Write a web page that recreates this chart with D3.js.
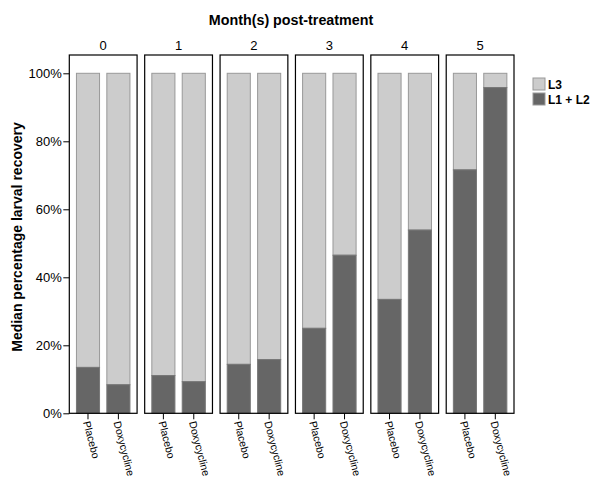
<!DOCTYPE html>
<html><head><meta charset="utf-8">
<script src="https://cdn.jsdelivr.net/npm/d3@7"></script>
<style>body{margin:0;background:#fff;}svg{display:block;font-family:"Liberation Sans",Arial,sans-serif;}</style>
</head><body>
<script>
const months = ["0","1","2","3","4","5"];
const treatments = ["Placebo","Doxycycline"];
// L1 + L2 median percentage (remaining up to 100% is L3)
const placeboL12 = [13.5, 11.1, 14.4, 25.0, 33.5, 71.6];
const doxyL12 = [8.4, 9.3, 15.8, 46.5, 53.9, 95.8];
const yTicks = [0, 20, 40, 60, 80, 100];
const legendLabels = ["L3", "L1 + L2"];
const colors = {L3: "#cccccc", L12: "#666666"};

(function () {
const W = 600, H = 484;
const svg = d3.select("body").append("svg").attr("width", W).attr("height", H);

const plotLeft = 69.3, plotRight = 514, panelGap = 7.6, plotTop = 55, plotBottom = 413.3;
const nP = months.length;
const panelW = (plotRight - plotLeft - panelGap * (nP - 1)) / nP;

const y = d3.scaleLinear().domain([0, 100]).range([plotBottom, 73.3]);
const xOuter = d3.scaleBand().domain(months).range([plotLeft, plotRight + panelGap]).paddingInner(0).paddingOuter(0);
const xInner = d3.scaleBand().domain(treatments).range([0, panelW]).paddingInner(0.24).paddingOuter(0.235);

const data = months.map((m, i) => ({month: m, vals: [placeboL12[i], doxyL12[i]]}));

svg.append("text").attr("x", 291).attr("y", 25).attr("text-anchor", "middle")
  .attr("font-size", 14.3).attr("font-weight", "bold").text("Month(s) post-treatment");

svg.append("text").attr("transform", "translate(22,237) rotate(-90)").attr("text-anchor", "middle")
  .attr("font-size", 14).attr("font-weight", "bold").text("Median percentage larval recovery");

const yAxis = d3.axisLeft(y).tickValues(yTicks).tickFormat(d => d + "%").tickSize(6).tickSizeOuter(0);
const ga = svg.append("g").attr("transform", `translate(${plotLeft},0)`).call(yAxis);
ga.select(".domain").remove();
ga.selectAll("line").attr("stroke", "#000");
ga.selectAll("text").attr("font-size", 13).attr("fill", "#000").attr("font-family", "Liberation Sans, Arial, sans-serif").attr("dx", "1.5");

data.forEach(d => {
  const px = xOuter(d.month);
  const g = svg.append("g").attr("transform", `translate(${px},0)`);
  g.append("text").attr("x", panelW / 2).attr("y", 50).attr("text-anchor", "middle")
    .attr("font-size", 13).text(d.month);
  treatments.forEach((t, j) => {
    const v = d.vals[j];
    const bx = xInner(t), bw = xInner.bandwidth();
    g.append("rect").attr("x", bx).attr("y", y(100)).attr("width", bw).attr("height", y(v) - y(100))
      .attr("fill", colors.L3).attr("stroke", "#999").attr("stroke-width", 1);
    g.append("rect").attr("x", bx).attr("y", y(v)).attr("width", bw).attr("height", plotBottom - y(v))
      .attr("fill", colors.L12).attr("stroke", "#777").attr("stroke-width", 1);
  });
  g.append("rect").attr("x", 0).attr("y", plotTop).attr("width", panelW).attr("height", plotBottom - plotTop)
    .attr("fill", "none").attr("stroke", "#000").attr("stroke-width", 1.2);
  const xAxis = d3.axisBottom(xInner).tickSize(6).tickSizeOuter(0);
  const gx = g.append("g").attr("transform", `translate(0,${plotBottom})`).call(xAxis);
  gx.select(".domain").remove();
  gx.selectAll("line").attr("stroke", "#000");
  gx.selectAll("text").attr("font-size", 10.5).attr("fill", "#000")
    .attr("font-family", "Liberation Sans, Arial, sans-serif")
    .attr("text-anchor", "start").attr("dy", null).attr("y", 0).attr("x", 0)
    .attr("transform", "translate(-1,8) rotate(75.5)").attr("dominant-baseline", "central");
});

const legend = svg.append("g").attr("transform", "translate(533,78)");
legendLabels.forEach((l, i) => {
  legend.append("rect").attr("x", 0).attr("y", i * 15).attr("width", 12).attr("height", 12)
    .attr("fill", i === 0 ? colors.L3 : colors.L12).attr("stroke", "#999");
  legend.append("text").attr("x", 15).attr("y", i * 15 + 10.5).attr("font-size", 12)
    .attr("font-weight", "bold").text(l);
});
})();
</script>
</body></html>
